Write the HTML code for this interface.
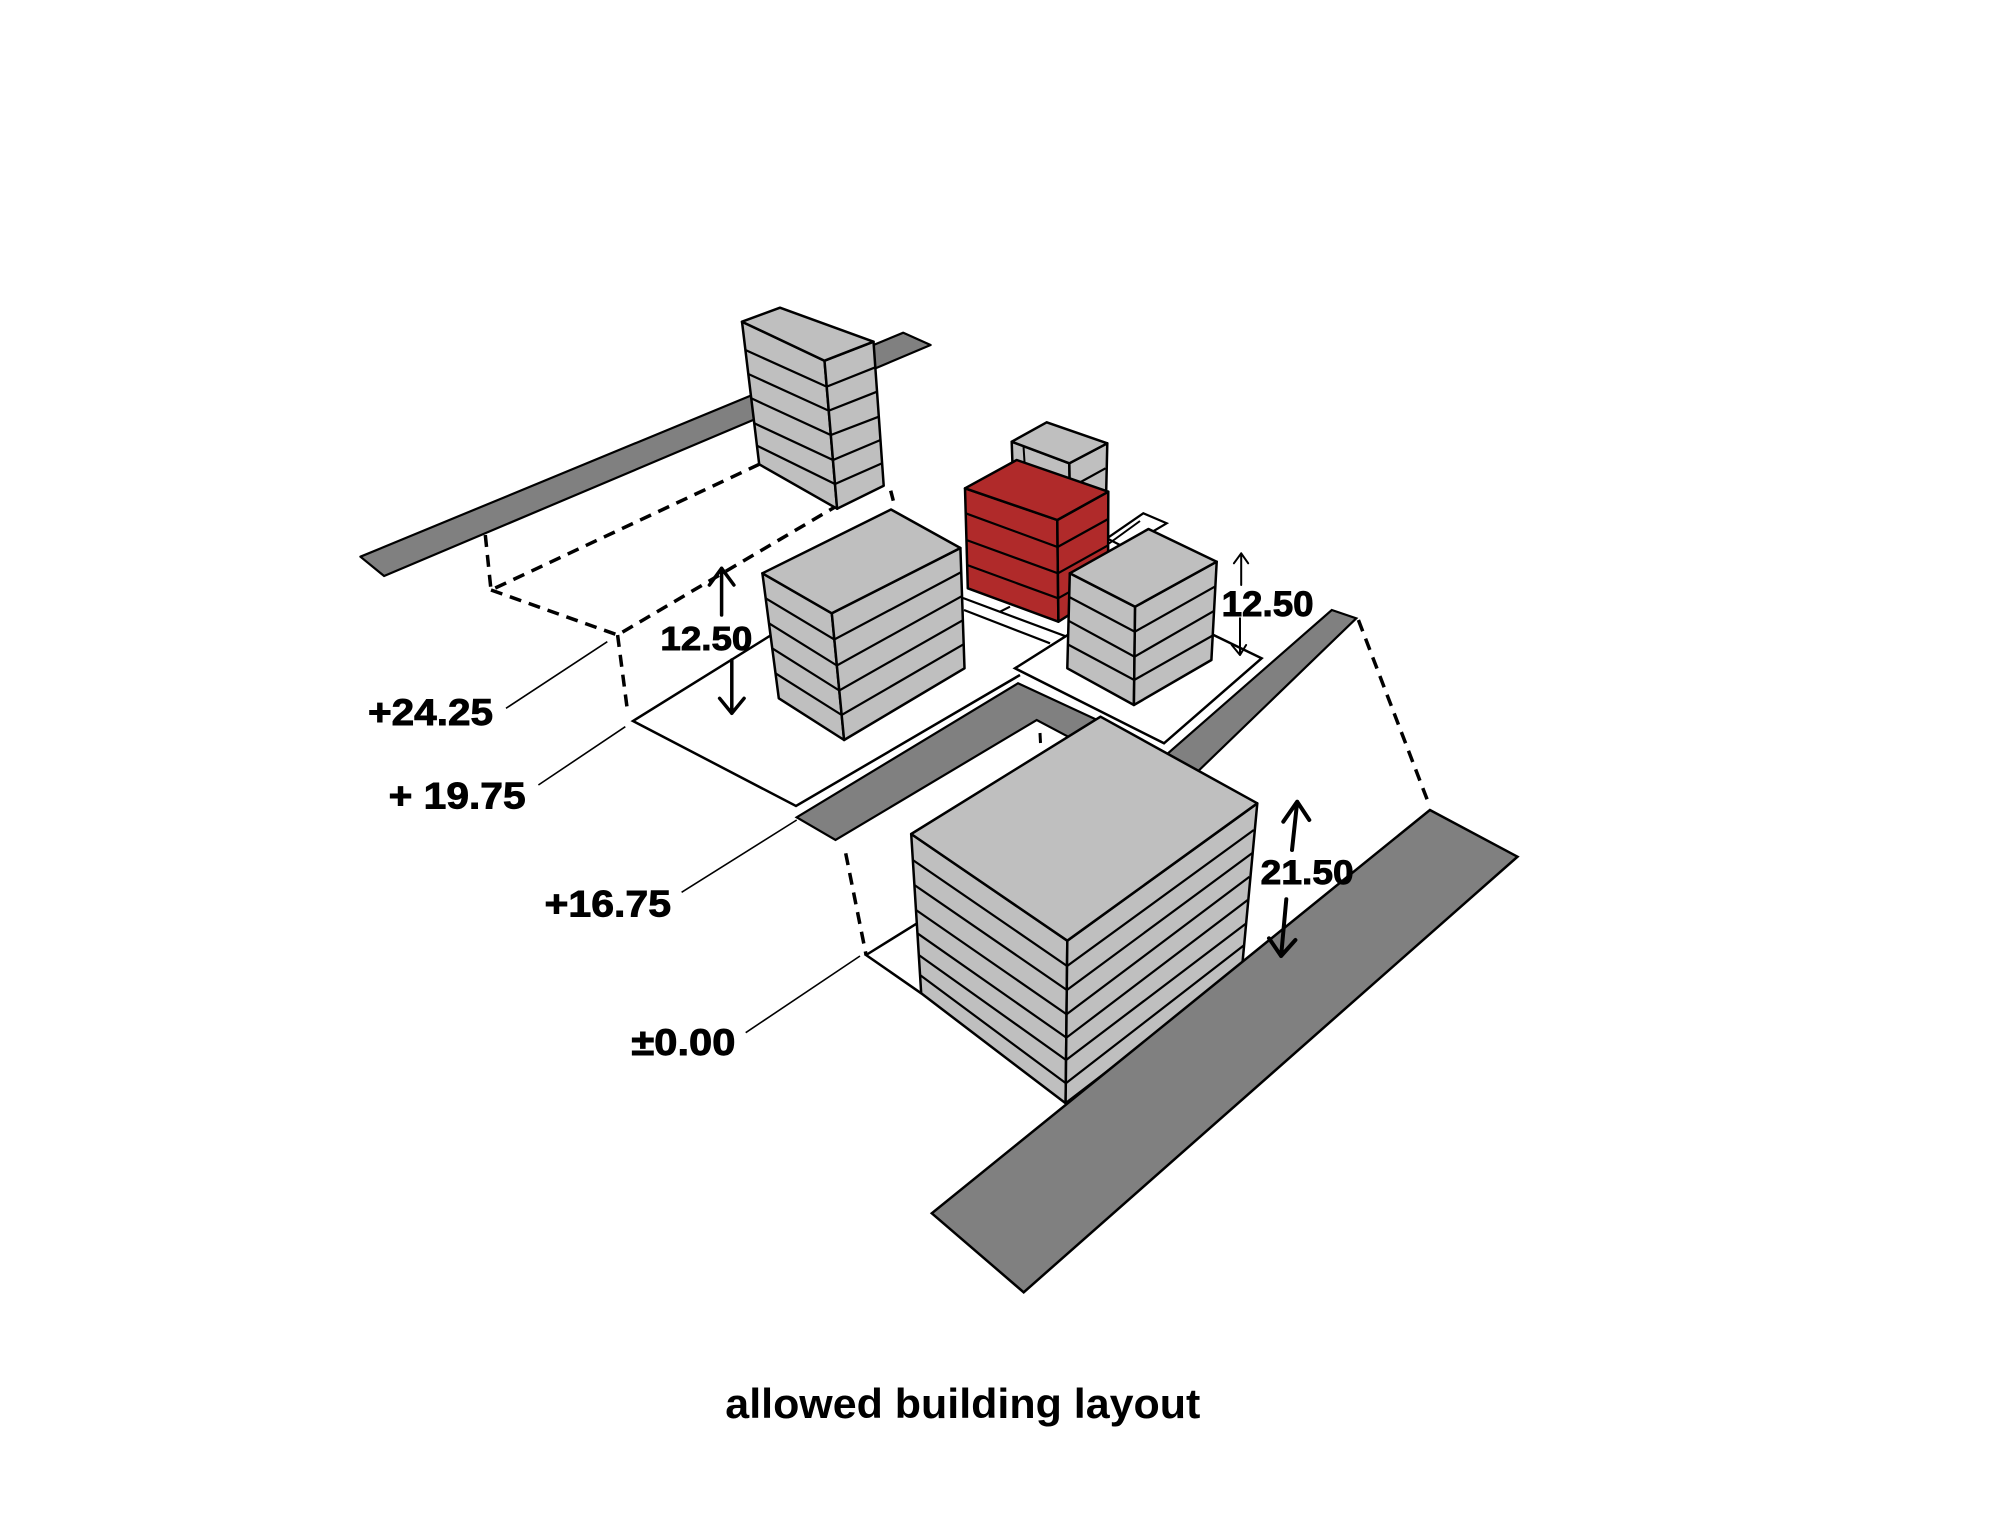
<!DOCTYPE html>
<html>
<head>
<meta charset="utf-8">
<style>
html,body{margin:0;padding:0;background:#fff;}
svg{display:block;}
text{font-family:"Liberation Sans",Arial,sans-serif;font-weight:bold;fill:#000;}
.lbl{stroke:#000;stroke-width:0.9px;}
</style>
</head>
<body>
<svg width="2000" height="1535" viewBox="0 0 2000 1535" xmlns="http://www.w3.org/2000/svg">
<rect x="0" y="0" width="2000" height="1535" fill="#fff"/>

<!-- Road 1 (upper left) -->
<polygon points="360.4,556.7 903.3,332.7 930.6,345 384.1,576" fill="#808080" stroke="#000" stroke-width="2.2" stroke-linejoin="round"/>

<!-- dashed lines upper -->
<g fill="none" stroke="#000" stroke-width="3.5" stroke-dasharray="12 8">
<polyline points="485.3,535 491,590 759.2,464.3"/>
<polyline points="491,590 617.6,635 835,507"/>
<polyline points="617.6,635 627.8,713.3"/>
</g>
<line x1="890.7" y1="490.7" x2="893.3" y2="500.7" stroke="#000" stroke-width="3.5"/>

<!-- Top-left building (6 floors) -->
<g stroke="#000" stroke-width="2.5" stroke-linejoin="round" fill="#bfbfbf">
<polygon points="742,321.7 824.5,360.7 837.1,508.7 759.2,464.3"/>
<polygon points="824.5,360.7 873.5,341.7 883.7,485.7 837.1,508.7"/>
<polygon points="742,321.7 780,307.7 873.5,341.7 824.5,360.7"/>
</g>
<g stroke="#000" stroke-width="2.2" fill="none">
<polyline points="745.4,350 826.7,386.7 875.3,367.3"/>
<polyline points="748.3,374 828.8,410.7 877,391.7"/>
<polyline points="751.2,398.3 830.8,435 878.8,416.7"/>
<polyline points="754.3,423.3 833,460 880.5,440"/>
<polyline points="757,445.7 835,484 882.1,463.3"/>
</g>

<!-- Mid-left platform -->
<polyline points="770.5,635.5 633,721 796,806 1020,675" fill="none" stroke="#000" stroke-width="2.5" stroke-linejoin="miter"/>

<!-- Red slab lines -->
<g stroke="#000" stroke-width="2.2" fill="none">
<polyline points="963,598 1066.7,636.7"/>
<polyline points="964,610 1050,643.3"/>
<line x1="1000" y1="611.7" x2="1010" y2="606.7"/>
</g>

<!-- white slab right of red -->
<polygon points="1107,538.3 1143.3,513.3 1166.7,523.3 1152,532 1120,545" fill="#fff" stroke="#000" stroke-width="2.2"/>
<line x1="1109" y1="543.5" x2="1140" y2="521" stroke="#000" stroke-width="2"/>

<!-- Back gray building -->
<g stroke="#000" stroke-width="2.5" stroke-linejoin="round" fill="#bfbfbf">
<polygon points="1011.7,441.7 1069.3,463.3 1070,500 1013,480"/>
<polygon points="1069.3,463.3 1107.3,443.3 1106,500 1070,500"/>
<polygon points="1011.7,441.7 1046.7,422.3 1107.3,443.3 1069.3,463.3"/>
</g>
<line x1="1069.8" y1="488" x2="1105.5" y2="468.3" stroke="#000" stroke-width="2.2"/>
<line x1="1023.5" y1="446" x2="1024.5" y2="462" stroke="#000" stroke-width="2"/>

<!-- Red building (4 floors) -->
<g stroke="#000" stroke-width="2.5" stroke-linejoin="round" fill="#b02a2a">
<polygon points="965,488.3 1057.3,520 1058.4,621.7 967.8,588.3"/>
<polygon points="1057.3,520 1108.3,491.7 1108,590 1058.4,621.7"/>
<polygon points="965,488.3 1016.7,460 1108.3,491.7 1057.3,520"/>
</g>
<g stroke="#000" stroke-width="2.2" fill="none">
<polyline points="965.7,513.3 1057.6,547 1108.2,519"/>
<polyline points="966.4,540 1057.9,573.3 1108.1,545.3"/>
<polyline points="967.1,565 1058.1,598.3 1108,570.3"/>
</g>

<!-- Right-mid platform -->
<polygon points="1015,668.3 1131,595 1261.6,658.3 1164,743.3" fill="#fff" stroke="#000" stroke-width="2.5" stroke-linejoin="miter"/>

<!-- Right-mid building (4 floors) -->
<g stroke="#000" stroke-width="2.5" stroke-linejoin="round" fill="#bfbfbf">
<polygon points="1069.8,573.3 1135.1,606.7 1133.9,705 1067.3,668.3"/>
<polygon points="1135.1,606.7 1216.7,561.7 1211.4,660 1133.9,705"/>
<polygon points="1069.8,573.3 1148.5,529 1216.7,561.7 1135.1,606.7"/>
</g>
<g stroke="#000" stroke-width="2.2" fill="none">
<polyline points="1069.2,597 1134.8,631.7 1215.4,586.3"/>
<polyline points="1068.6,620.8 1134.5,656.7 1214,610.9"/>
<polyline points="1068,644.5 1134.2,680 1212.7,635.5"/>
</g>

<!-- Mid-left building (5 floors) -->
<g stroke="#000" stroke-width="2.5" stroke-linejoin="round" fill="#bfbfbf">
<polygon points="762.4,573.3 831.8,613.3 844.1,740 778.8,698.3"/>
<polygon points="831.8,613.3 960.4,548 964.5,668.3 844.1,740"/>
<polygon points="762.4,573.3 891,509.5 960.4,548 831.8,613.3"/>
</g>
<g stroke="#000" stroke-width="2.2" fill="none">
<polyline points="765.7,598.3 834.3,639.5 961.2,572.1"/>
<polyline points="769,623.3 836.9,665.5 962,596.1"/>
<polyline points="772.2,648.3 839.3,690.5 962.9,620.2"/>
<polyline points="775.5,673.3 841.7,715 963.7,644.2"/>
</g>

<!-- L-shaped road -->
<polygon points="796.7,817.3 1018,683.3 1108,725 1075,740.3 1036.7,720 835.5,840" fill="#808080" stroke="#000" stroke-width="2.2" stroke-linejoin="miter"/>
<line x1="1040" y1="733" x2="1040.5" y2="743" stroke="#000" stroke-width="3"/>

<!-- Right strip -->
<polygon points="1331.8,610 1356.3,618.3 1190,779 1158,762" fill="#808080" stroke="#000" stroke-width="2.2"/>

<!-- dashed lines lower -->
<g fill="none" stroke="#000" stroke-width="3.5" stroke-dasharray="12 8">
<polyline points="845.7,853.3 866.1,955"/>
<polyline points="1358.4,620 1429.9,806.7"/>
</g>

<!-- big building platform -->
<polyline points="917.1,923.3 866.1,955 921.2,993.3" fill="none" stroke="#000" stroke-width="2.5"/>

<!-- Big building (7 floors) -->
<g stroke="#000" stroke-width="2.5" stroke-linejoin="round" fill="#bfbfbf">
<polygon points="911.2,834 1067.3,940.7 1065.6,1103.3 921.2,993.3"/>
<polygon points="1067.3,940.7 1257.3,803.3 1242,968 1065.6,1103.3"/>
<polygon points="911.2,834 1100.5,716.7 1257.3,803.3 1067.3,940.7"/>
</g>
<g stroke="#000" stroke-width="2.2" fill="none">
<polyline points="912.8,860 1067.1,966 1253.8,830"/>
<polyline points="914.4,885 1066.9,990 1252,853.3"/>
<polyline points="916,910 1066.6,1014.3 1249.5,876.7"/>
<polyline points="917.4,933.3 1066.4,1037.7 1247.7,900"/>
<polyline points="918.8,955 1066.1,1060 1246.4,923.3"/>
<polyline points="920,975 1065.9,1083.3 1244.3,945"/>
</g>

<!-- Big road -->
<polygon points="1429.9,810 1517.5,856.7 1023.7,1292.3 931.8,1213.3" fill="#808080" stroke="#000" stroke-width="2.5" stroke-linejoin="miter"/>

<!-- Leader lines -->
<g stroke="#000" stroke-width="1.6" fill="none">
<line x1="506" y1="708.3" x2="607.3" y2="641.7"/>
<line x1="538.4" y1="785" x2="625.3" y2="726.7"/>
<line x1="681.6" y1="892.3" x2="796.7" y2="820"/>
<line x1="745.7" y1="1032.7" x2="860" y2="956"/>
</g>

<!-- Arrows -->
<g stroke="#000" fill="none" stroke-linecap="round" stroke-linejoin="round">
<path d="M721.6,615 L721.6,568.3 M709.4,585 L721.6,568.3 L733.9,585" stroke-width="3.5"/>
<path d="M731.8,660 L731.8,713.3 M719.6,698.3 L731.8,713.3 L744.1,698.3" stroke-width="3.5"/>
<path d="M1241.2,585 L1241.2,553.3 M1233.9,563.3 L1241.2,553.3 L1248.2,563.3" stroke-width="2"/>
<path d="M1240,618.3 L1240,655 M1231.8,645 L1240,655 L1246.1,645" stroke-width="2"/>
<path d="M1292,850 L1297.2,801.7 M1283.3,821.7 L1297.2,801.7 L1309.3,820" stroke-width="4"/>
<path d="M1286.3,899.3 L1281.1,956 M1269,938.3 L1281.1,956 L1295.4,940" stroke-width="4"/>
</g>

<!-- Labels -->
<text class="lbl" x="368" y="725" font-size="37" textLength="125" lengthAdjust="spacingAndGlyphs">+24.25</text>
<text class="lbl" x="388.6" y="808.3" font-size="37" textLength="137" lengthAdjust="spacingAndGlyphs">+ 19.75</text>
<text class="lbl" x="544.5" y="916.7" font-size="37" textLength="126.5" lengthAdjust="spacingAndGlyphs">+16.75</text>
<text class="lbl" x="631.4" y="1055" font-size="37" textLength="104" lengthAdjust="spacingAndGlyphs">±0.00</text>
<text class="lbl" x="660.4" y="650" font-size="33" textLength="92" lengthAdjust="spacingAndGlyphs">12.50</text>
<text class="lbl" x="1221.6" y="616" font-size="35" textLength="92" lengthAdjust="spacingAndGlyphs">12.50</text>
<text class="lbl" x="1260.7" y="884" font-size="34" textLength="93" lengthAdjust="spacingAndGlyphs">21.50</text>

<text x="725.3" y="1418" font-size="42" textLength="475" lengthAdjust="spacingAndGlyphs">allowed building layout</text>
</svg>
</body>
</html>
